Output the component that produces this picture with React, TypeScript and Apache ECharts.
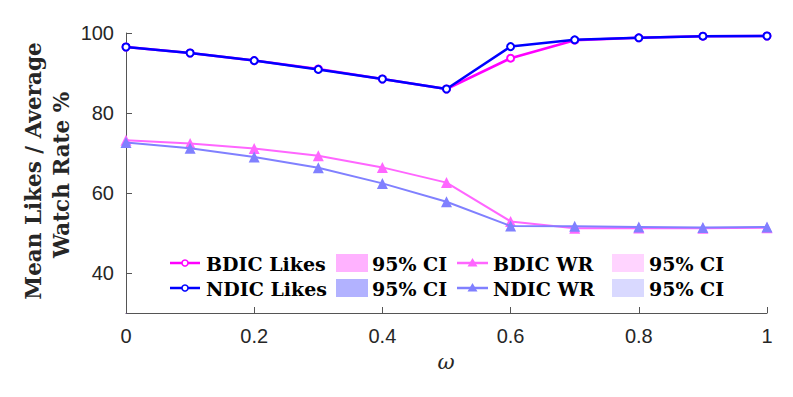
import React, { useEffect, useRef } from "react";
import * as echarts from "echarts";

const omega = [0, 0.1, 0.2, 0.3, 0.4, 0.5, 0.6, 0.7, 0.8, 0.9, 1.0];
const bdicLikes = [96.5, 95.0, 93.1, 91.0, 88.5, 86.0, 93.7, 98.2, 98.8, 99.2, 99.25];
const bdicLikesLo = [96.3, 94.8, 92.9, 90.7, 88.2, 85.6, 92.5, 97.9, 98.6, 99.0, 99.1];
const bdicLikesHi = [96.7, 95.2, 93.3, 91.2, 88.8, 86.3, 94.9, 98.5, 99.0, 99.35, 99.4];
const ndicLikes = [96.5, 95.0, 93.1, 90.9, 88.5, 86.0, 96.6, 98.3, 98.8, 99.2, 99.25];
const ndicLikesLo = [96.4, 94.9, 93.0, 90.8, 88.4, 85.9, 96.4, 98.2, 98.7, 99.1, 99.15];
const ndicLikesHi = [96.6, 95.1, 93.2, 91.0, 88.6, 86.1, 96.8, 98.4, 98.9, 99.3, 99.35];
const bdicWR = [73.2, 72.4, 71.1, 69.3, 66.4, 62.6, 52.9, 51.2, 51.25, 51.2, 51.3];
const bdicWRLo = [72.9, 72.1, 70.8, 69.0, 66.1, 62.3, 52.4, 51.0, 51.05, 51.0, 51.1];
const bdicWRHi = [73.5, 72.7, 71.4, 69.6, 66.7, 62.9, 53.5, 51.5, 51.45, 51.4, 51.5];
const ndicWR = [72.6, 71.2, 69.0, 66.3, 62.4, 57.8, 51.75, 51.7, 51.5, 51.35, 51.5];
const ndicWRLo = [72.4, 71.0, 68.8, 66.1, 62.2, 57.6, 51.6, 51.55, 51.35, 51.2, 51.35];
const ndicWRHi = [72.8, 71.4, 69.2, 66.5, 62.6, 58.0, 51.9, 51.85, 51.65, 51.5, 51.65];
const yTicks = [40, 60, 80, 100];

const C_BL = "#ff00ff";
const C_NL = "#0000ff";
const C_BW = "#ff66ff";
const C_NW = "#8080ff";
const CI_BL = "rgba(255,0,255,0.3)";
const CI_NL = "rgba(0,0,255,0.3)";
const CI_BW = "rgba(255,102,255,0.28)";
const CI_NW = "rgba(128,128,255,0.3)";

const pairs = (ys: number[]) => omega.map((x, i) => [x, ys[i]]);

function band(id: string, lo: number[], hi: number[], color: string): any[] {
  return [
    {
      type: "line",
      name: id + "lo",
      stack: id,
      data: pairs(lo),
      symbol: "none",
      lineStyle: { opacity: 0 },
      silent: true,
      z: 1,
    },
    {
      type: "line",
      name: id + "band",
      stack: id,
      data: omega.map((x, i) => [x, hi[i] - lo[i]]),
      symbol: "none",
      lineStyle: { opacity: 0 },
      areaStyle: { color, opacity: 1 },
      silent: true,
      z: 1,
    },
  ];
}

const SERIF = "'DejaVu Serif', 'Liberation Serif', serif";
const SANS = "'Liberation Sans', Arial, Helvetica, sans-serif";
const LEG_FS = 19;

function legendGraphics(): any[] {
  const els: any[] = [];
  const rows = [263, 288];
  const lineEntries = [
    { x0: 170, x1: 200, color: C_BL, marker: "circle", text: "BDIC Likes", row: 0, tx: 206 },
    { x0: 170, x1: 200, color: C_NL, marker: "circle", text: "NDIC Likes", row: 1, tx: 206 },
    { x0: 457, x1: 488, color: C_BW, marker: "tri", text: "BDIC WR", row: 0, tx: 493 },
    { x0: 457, x1: 488, color: C_NW, marker: "tri", text: "NDIC WR", row: 1, tx: 493 },
  ];
  lineEntries.forEach((e) => {
    const y = rows[e.row];
    els.push({
      type: "line",
      shape: { x1: e.x0, y1: y, x2: e.x1, y2: y },
      style: { stroke: e.color, lineWidth: 2.5 },
    });
    const cx = (e.x0 + e.x1) / 2;
    if (e.marker === "circle") {
      els.push({
        type: "circle",
        shape: { cx, cy: y, r: 3 },
        style: { fill: "#fff", stroke: e.color, lineWidth: 1.5 },
      });
    } else {
      els.push({
        type: "polygon",
        shape: { points: [[cx, y - 5], [cx - 5, y + 3.5], [cx + 5, y + 3.5]] },
        style: { fill: e.color },
      });
    }
    els.push({
      type: "text",
      x: e.tx,
      y: y + 1,
      style: {
        text: e.text,
        fontFamily: SERIF,
        fontWeight: "bold",
        fontSize: LEG_FS,
        fill: "#000",
        textVerticalAlign: "middle",
        textAlign: "left",
      },
    });
  });
  const patches = [
    { x: 336, color: CI_BL, row: 0, tx: 372 },
    { x: 336, color: CI_NL, row: 1, tx: 372 },
    { x: 612, color: CI_BW, row: 0, tx: 649 },
    { x: 612, color: CI_NW, row: 1, tx: 649 },
  ];
  patches.forEach((p) => {
    const y = rows[p.row];
    els.push({
      type: "rect",
      shape: { x: p.x, y: y - 9, width: 32, height: 18 },
      style: { fill: p.color },
    });
    els.push({
      type: "text",
      x: p.tx,
      y: y + 1,
      style: {
        text: "95% CI",
        fontFamily: SERIF,
        fontWeight: "bold",
        fontSize: LEG_FS,
        fill: "#000",
        textVerticalAlign: "middle",
        textAlign: "left",
      },
    });
  });
  return els;
}

export default function App() {
  const ref = useRef<HTMLDivElement>(null);
  useEffect(() => {
    if (!ref.current) return;
    const chart = echarts.init(ref.current, undefined, { renderer: "svg" });
    const mainLine = (name: string, ys: number[], color: string, symbol: string, size: number, width: number, z: number) => ({
      type: "line",
      name,
      data: pairs(ys),
      symbol,
      symbolSize: size,
      showSymbol: true,
      lineStyle: { color, width },
      itemStyle: symbol === "emptyCircle" ? { color, borderColor: color, borderWidth: 2.5 } : { color },
      z,
    });
    chart.setOption({
      animation: false,
      backgroundColor: "#fff",
      grid: { left: 126, right: 26, top: 33, bottom: 84, containLabel: false },
      xAxis: {
        type: "value",
        min: 0,
        max: 1,
        interval: 0.2,
        axisLine: { show: true, lineStyle: { color: "#555", width: 1 } },
        axisTick: { show: true, inside: true, length: 6, lineStyle: { color: "#555" } },
        splitLine: { show: false },
        axisLabel: {
          color: "#262626",
          fontFamily: SANS,
          fontSize: 20,
          margin: 13,
          formatter: (v: number) => String(Math.round(v * 10) / 10),
        },
      },
      yAxis: {
        type: "value",
        min: 30,
        max: 100,
        axisLine: { show: true, lineStyle: { color: "#555", width: 1 } },
        axisTick: { show: true, inside: true, length: 6, lineStyle: { color: "#555" }, customValues: yTicks },
        splitLine: { show: false },
        axisLabel: {
          color: "#262626",
          fontFamily: SANS,
          fontSize: 20,
          margin: 12,
          customValues: yTicks,
        },
      },
      graphic: [
        {
          type: "text",
          x: 33,
          y: 171,
          rotation: Math.PI / 2,
          style: {
            text: "Mean Likes / Average",
            fontFamily: SERIF,
            fontWeight: "bold",
            fontSize: 21.5,
            fill: "#262626",
            textAlign: "center",
            textVerticalAlign: "middle",
          },
        },
        {
          type: "text",
          x: 61,
          y: 175,
          rotation: Math.PI / 2,
          style: {
            text: "Watch Rate %",
            fontFamily: SERIF,
            fontWeight: "bold",
            fontSize: 21.5,
            fill: "#262626",
            textAlign: "center",
            textVerticalAlign: "middle",
          },
        },
        {
          type: "text",
          x: 446,
          y: 362,
          style: {
            text: "ω",
            fontFamily: SERIF,
            fontStyle: "italic",
            fontSize: 21,
            fill: "#262626",
            textAlign: "center",
            textVerticalAlign: "middle",
          },
        },
        ...legendGraphics(),
      ],
      series: [
        ...band("bl", bdicLikesLo, bdicLikesHi, CI_BL),
        ...band("nl", ndicLikesLo, ndicLikesHi, CI_NL),
        ...band("bw", bdicWRLo, bdicWRHi, CI_BW),
        ...band("nw", ndicWRLo, ndicWRHi, CI_NW),
        mainLine("BDIC Likes", bdicLikes, C_BL, "emptyCircle", 7, 2.5, 3),
        mainLine("NDIC Likes", ndicLikes, C_NL, "emptyCircle", 7, 2.5, 4),
        mainLine("BDIC WR", bdicWR, C_BW, "triangle", 11, 2, 3),
        mainLine("NDIC WR", ndicWR, C_NW, "triangle", 11, 2, 4),
      ],
    });
    return () => chart.dispose();
  }, []);
  return <div ref={ref} style={{ width: 793, height: 397, position: "absolute", left: 0, top: 0 }} />;
}
